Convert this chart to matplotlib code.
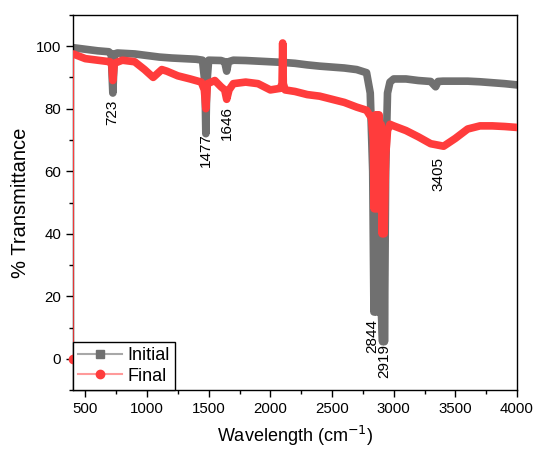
import numpy as np
import matplotlib
matplotlib.use('Agg')
import matplotlib.pyplot as plt
from matplotlib.lines import Line2D
from matplotlib.ticker import MultipleLocator

plt.rcParams['font.family'] = ['Liberation Sans', 'DejaVu Sans']

# Initial spectrum
init_x = [400, 500, 600, 690, 710, 723, 736, 760, 900, 1000, 1100, 1200, 1300, 1400, 1450,
          1470, 1477, 1485, 1500, 1600, 1630, 1646, 1660, 1700, 1800, 1900, 2000, 2100,
          2200, 2300, 2400, 2500, 2600, 2700, 2780, 2810, 2830, 2840, 2850, 2860, 2870,
          2880, 2890, 2900, 2910, 2918, 2925, 2935, 2950, 2970, 3000, 3100, 3200, 3300,
          3340, 3360, 3400, 3500, 3600, 3700, 3800, 3900, 4000]
init_y = [99.5, 99.0, 98.5, 98.2, 97.5, 85.0, 97.5, 97.8, 97.5, 97.0, 96.5, 96.2, 96.0, 95.8, 95.5,
          88.0, 72.0, 88.0, 95.5, 95.4, 95.0, 92.0, 95.0, 95.5, 95.4, 95.2, 95.0, 94.8,
          94.5, 94.0, 93.6, 93.3, 93.0, 92.5, 91.5, 85.0, 60.0, 15.0, 70.0, 15.0, 70.0,
          15.0, 70.0, 15.0, 5.5, 60.0, 5.5, 60.0, 85.0, 88.5, 89.5, 89.5, 89.0, 88.7,
          87.0, 88.7, 88.8, 88.8, 88.8, 88.6, 88.3, 88.0, 87.6]

# Final spectrum
final_x = [400, 402, 500, 600, 700, 715, 723, 735, 800, 900, 980, 1050, 1120, 1160, 1250, 1350,
           1440, 1465, 1477, 1490, 1550, 1600, 1630, 1646, 1665, 1700, 1800, 1900, 1950,
           2000, 2080, 2095, 2100, 2105, 2120, 2200, 2300, 2400, 2500, 2600, 2700, 2780,
           2820, 2835, 2842, 2850, 2858, 2866, 2874, 2882, 2890, 2898, 2906, 2914, 2922,
           2935, 2950, 2970, 3000, 3100, 3200, 3300, 3405, 3500, 3600, 3700, 3800, 3900, 4000]
final_y = [0.0, 97.5, 96.0, 95.5, 95.0, 94.0, 89.0, 94.5, 95.5, 95.0, 92.5, 90.0, 92.5, 92.0, 90.5, 89.5,
           88.5, 86.0, 80.0, 88.0, 89.0, 87.0, 86.0, 83.0, 86.0, 88.0, 88.5, 88.0, 87.0,
           86.0, 86.5, 88.0, 101.0, 88.0, 86.0, 85.5, 84.5, 84.0, 83.0, 82.0, 80.5, 79.5,
           77.0, 70.0, 48.0, 78.0, 48.0, 78.0, 48.0, 78.0, 48.0, 75.0, 40.0, 70.0, 40.0,
           65.0, 73.0, 75.0, 74.5, 73.0, 71.0, 68.8, 68.0, 70.5, 73.5, 74.5, 74.5, 74.3, 74.0]

peak_x = [715, 1475, 1645, 2825, 2922, 3367]
peak_y = [83.0, 72.3, 80.7, 12.9, 4.8, 64.6]
peak_labels = ['723', '1477', '1646', '2844', '2919', '3405']

gray = '#707070'
red = '#ff3c3c'

fig = plt.figure(figsize=(5.34, 4.5), dpi=100)
ax = fig.add_axes([0.1367, 0.133, 0.8315, 0.834])

ax.plot(init_x, init_y, color=gray, lw=5.5, solid_joinstyle='round', solid_capstyle='round', zorder=2)
ax.plot(final_x[1:], final_y[1:], color=red, lw=5.5, solid_joinstyle='round', solid_capstyle='round', zorder=3)
ax.plot(final_x[:2], final_y[:2], color=red, lw=1.2, zorder=3)
ax.plot(final_x[:1], final_y[:1], 'o', color=red, ms=6, clip_on=False, zorder=4)

for px, py, lab in zip(peak_x, peak_y, peak_labels):
    ax.text(px, py, lab, rotation=90, ha='center', va='top', fontsize=11, zorder=5)

ax.set_xlim(400, 4000)
ax.set_ylim(-10, 110)
ax.xaxis.set_major_locator(MultipleLocator(500))
ax.xaxis.set_minor_locator(MultipleLocator(250))
ax.yaxis.set_major_locator(MultipleLocator(20))
ax.yaxis.set_minor_locator(MultipleLocator(10))
ax.tick_params(which='both', direction='out', top=False, right=False, labelsize=10.8)
ax.tick_params(which='major', length=5, width=1)
ax.tick_params(which='minor', length=3, width=1)
for s in ax.spines.values():
    s.set_linewidth(1)

ax.set_xlabel('Wavelength (cm$^{-1}$)', fontsize=13, labelpad=6)
ax.set_ylabel('% Transmittance', fontsize=14.5, labelpad=4)

handles = [Line2D([], [], color='#a8a8a8', lw=1.5, marker='s', ms=5.5, mfc=gray, mec=gray),
           Line2D([], [], color='#ff9a9a', lw=1.5, marker='o', ms=6, mfc=red, mec=red)]
leg = ax.legend(handles, ['Initial', 'Final'], loc='lower left', fontsize=13, frameon=True,
                fancybox=False, edgecolor='black', framealpha=1, borderpad=0.3,
                handlelength=2.4, handletextpad=0.3, labelspacing=0.2, borderaxespad=0.0)
leg.get_frame().set_linewidth(1)

fig.savefig('out.png', dpi=100)
